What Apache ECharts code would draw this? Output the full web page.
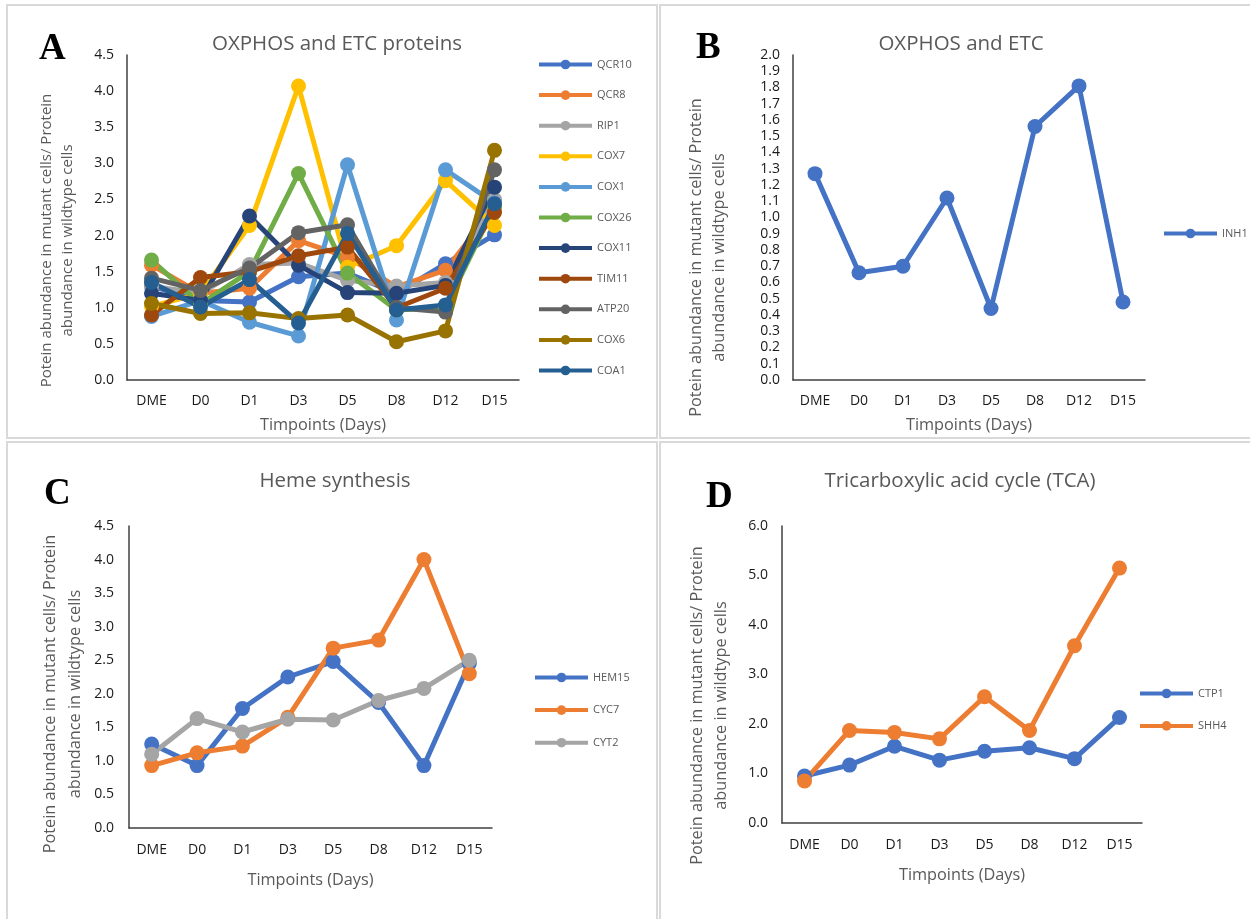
<!DOCTYPE html>
<html><head><meta charset="utf-8">
<script src="https://cdn.jsdelivr.net/npm/echarts@6/dist/echarts.min.js"></script>
<style>html,body{margin:0;padding:0;background:#fff}#c{width:1250px;height:919px}</style>
</head><body><div id="c"></div>
<script>
const days = ['DME','D0','D1','D3','D5','D8','D12','D15'];

// Panel A: OXPHOS and ETC proteins
const QCR10 = [1.30, 1.10, 1.08, 1.43, 1.48, 1.20, 1.61, 2.01];
const QCR8  = [1.59, 1.20, 1.27, 1.93, 1.70, 1.29, 1.52, 2.40];
const RIP1  = [1.30, 1.20, 1.60, 1.62, 1.38, 1.30, 1.35, 2.50];
const COX7  = [1.02, 1.20, 2.14, 4.07, 1.56, 1.86, 2.76, 2.14];
const COX1  = [0.88, 1.10, 0.80, 0.61, 2.98, 0.83, 2.91, 2.45];
const COX26 = [1.66, 1.05, 1.50, 2.86, 1.48, 0.97, 1.00, 2.40];
const COX11 = [1.20, 1.10, 2.27, 1.59, 1.21, 1.20, 1.31, 2.67];
const TIM11 = [0.90, 1.42, 1.50, 1.72, 1.84, 1.00, 1.27, 2.32];
const ATP20 = [1.41, 1.24, 1.55, 2.04, 2.15, 1.00, 0.94, 2.91];
const COX6  = [1.06, 0.92, 0.93, 0.85, 0.90, 0.53, 0.68, 3.18];
const COA1  = [1.35, 1.01, 1.39, 0.79, 2.03, 0.97, 1.04, 2.44];

// Panel B: OXPHOS and ETC
const INH1 = [1.27, 0.66, 0.70, 1.12, 0.44, 1.56, 1.81, 0.48];

// Panel C: Heme synthesis
const HEM15 = [1.25, 0.93, 1.78, 2.25, 2.48, 1.87, 0.93, 2.45];
const CYC7  = [0.93, 1.12, 1.22, 1.65, 2.68, 2.80, 4.00, 2.30];
const CYT2  = [1.10, 1.63, 1.43, 1.62, 1.61, 1.90, 2.08, 2.50];

// Panel D: TCA
const CTP1 = [0.95, 1.17, 1.55, 1.27, 1.45, 1.52, 1.30, 2.13];
const SHH4 = [0.85, 1.87, 1.83, 1.70, 2.55, 1.87, 3.58, 5.15];

const seriesA = [
  ['QCR10', QCR10, '#4472C4'], ['QCR8', QCR8, '#ED7D31'], ['RIP1', RIP1, '#A5A5A5'],
  ['COX7', COX7, '#FFC000'], ['COX1', COX1, '#5B9BD5'], ['COX26', COX26, '#70AD47'],
  ['COX11', COX11, '#264478'], ['TIM11', TIM11, '#9E480E'], ['ATP20', ATP20, '#636363'],
  ['COX6', COX6, '#997300'], ['COA1', COA1, '#255E91']
];
const seriesB = [['INH1', INH1, '#4472C4']];
const seriesC = [['HEM15', HEM15, '#4472C4'], ['CYC7', CYC7, '#ED7D31'], ['CYT2', CYT2, '#A5A5A5']];
const seriesD = [['CTP1', CTP1, '#4472C4'], ['SHH4', SHH4, '#ED7D31']];

const FONT = '"Open Sans", "Noto Sans", sans-serif';
const yName = 'Potein abundance in mutant cells/ Protein\nabundance in wildtype cells';

const grids = [
  {left:127, top:55, width:392, height:325},
  {left:793, top:55, width:352, height:325},
  {left:129, top:526, width:363, height:302},
  {left:782, top:526, width:360, height:297}
];
const yCfg = [
  {max:4.5, interval:0.5, gap:49, fs:15, lh:21, shift:46, margin:13},
  {max:2.0, interval:0.1, gap:62, fs:16.3, lh:23, shift:80, margin:13},
  {max:4.5, interval:0.5, gap:41, fs:16.3, lh:25, shift:34, margin:15},
  {max:6.0, interval:1.0, gap:49, fs:16.3, lh:24, shift:62, margin:14}
];

const xAxes = grids.map((g,i)=>({
  type:'category', gridIndex:i, data:days,
  axisLine:{lineStyle:{color:'#404040', width:1.5}},
  axisTick:{show:false},
  axisLabel:{color:'#1a1a1a', fontSize:14, fontFamily:FONT, margin:i>=2?15:14},
  name:'Timpoints (Days)', nameLocation:'middle', nameGap:i>=2?44:37,
  nameTextStyle:{color:'#595959', fontSize:16.3, fontFamily:FONT}
}));
const yAxes = grids.map((g,i)=>({
  type:'value', gridIndex:i, min:0, max:yCfg[i].max, interval:yCfg[i].interval,
  splitLine:{show:false},
  axisLine:{show:true, lineStyle:{color:'#404040', width:1.5}},
  axisTick:{show:false},
  axisLabel:{color:'#1a1a1a', fontSize:14, fontFamily:FONT, margin:yCfg[i].margin, formatter:v=>v.toFixed(1)},
  name:yName, nameLocation:'middle', nameRotate:90, nameGap:yCfg[i].gap,
  nameTextStyle:{color:'#595959', fontSize:yCfg[i].fs, fontFamily:FONT, lineHeight:yCfg[i].lh,
    align:'center', padding:[0, yCfg[i].shift, 0, 0]}
}));

const series = [];
[seriesA, seriesB, seriesC, seriesD].forEach((arr, gi)=>{
  arr.forEach(([name, data, color])=>{
    series.push({
      type:'line', name, data, xAxisIndex:gi, yAxisIndex:gi,
      symbol:'circle', symbolSize:15, showAllSymbol:true,
      lineStyle:{width:5, color}, itemStyle:{color},
      emphasis:{disabled:true}, animation:false
    });
  });
});

const legendBase = {orient:'vertical', itemWidth:53, itemHeight:12,
  lineStyle:{width:4}, textStyle:{color:'#595959', fontSize:11, fontFamily:FONT}, selectedMode:false};
const legends = [
  Object.assign({}, legendBase, {data:seriesA.map(s=>s[0]), left:532, top:54, itemGap:19.6}),
  Object.assign({}, legendBase, {data:seriesB.map(s=>s[0]), left:1157, top:223}),
  Object.assign({}, legendBase, {data:seriesC.map(s=>s[0]), left:528, top:667, itemGap:21.6}),
  Object.assign({}, legendBase, {data:seriesD.map(s=>s[0]), left:1133, top:683, itemGap:21.4})
];

const titles = [
  {text:'OXPHOS and ETC proteins', left:332, top:29},
  {text:'OXPHOS and ETC', left:956, top:29},
  {text:'Heme synthesis', left:330, top:466},
  {text:'Tricarboxylic acid cycle (TCA)', left:955, top:466}
].map(t=>({text:t.text, left:t.left, top:t.top, textAlign:'center',
  textStyle:{color:'#595959', fontSize:20.5, fontWeight:'normal', fontFamily:FONT}}));

const letter = (t,x,y)=>({type:'text', left:x, top:y, style:{text:t, fill:'#000',
  font:'bold 37px "Liberation Serif", "DejaVu Serif", serif'}});
const border = (x,y,w,h)=>({type:'rect', shape:{x,y,width:w,height:h},
  style:{fill:'none', stroke:'#d9d9d9', lineWidth:2}, silent:true});

const chart = echarts.init(document.getElementById('c'), null, {renderer:'canvas'});
chart.setOption({
  animation:false,
  backgroundColor:'#fff',
  title:titles,
  legend:legends,
  grid:grids,
  xAxis:xAxes,
  yAxis:yAxes,
  series,
  graphic:[
    border(7,5,650,433), border(660,5,600,433),
    border(7,442,650,490), border(660,442,600,490),
    letter('A',39,31), letter('B',696,30), letter('C',44,476), letter('D',706,479)
  ]
});
</script></body></html>
